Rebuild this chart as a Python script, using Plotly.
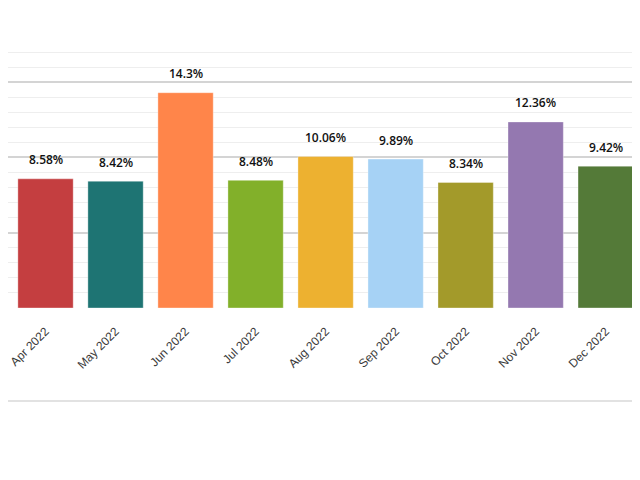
import plotly.graph_objects as go

months = ["Apr 2022", "May 2022", "Jun 2022", "Jul 2022", "Aug 2022",
          "Sep 2022", "Oct 2022", "Nov 2022", "Dec 2022"]
rates = [8.58, 8.42, 14.3, 8.48, 10.06, 9.89, 8.34, 12.36, 9.42]
labels = ["8.58%", "8.42%", "14.3%", "8.48%", "10.06%",
          "9.89%", "8.34%", "12.36%", "9.42%"]
bar_colors = ["#C43E40", "#1E7473", "#FF854A", "#82B02A", "#EDB130",
              "#A6D2F5", "#A39A2A", "#9478B0", "#547A38"]

fig = go.Figure()

fig.add_trace(go.Bar(
    x=months,
    y=rates,
    marker=dict(color=bar_colors, line=dict(color="rgba(255,255,255,0.35)", width=1)),
    hoverinfo="skip",
))

# value labels sit a bit higher than plotly's "outside" text would
for m, r, t in zip(months, rates, labels):
    fig.add_annotation(
        x=m, y=r, text=t, showarrow=False,
        yanchor="middle", yshift=19,
        font=dict(family="Open Sans", size=12, color="#111", weight=600),
    )

# thin separator line under the chart
fig.add_shape(type="line", xref="paper", yref="paper",
              x0=-0.02, x1=1, y0=-0.343, y1=-0.343,
              line=dict(color="#e2e2e2", width=2))

# page body has an 8px margin, so the figure is a bit smaller than the window
fig.update_layout(
    width=632,
    height=472,
    margin=dict(l=0, r=0, t=29, b=172),
    paper_bgcolor="white",
    plot_bgcolor="white",
    showlegend=False,
    bargap=0.21,
)

fig.update_xaxes(
    range=[-0.536, 8.49],
    tickangle=-45,
    tickfont=dict(family="Liberation Sans, Arial", size=12, color="#3a3a3a"),
    ticklabelstandoff=13,
    showgrid=False,
    showline=False,
    ticks="",
    automargin=False,
)

fig.update_yaxes(
    range=[0, 18],
    dtick=5,
    showticklabels=False,
    showgrid=True,
    gridcolor="#d4d4d4",
    gridwidth=1.5,
    minor=dict(dtick=1, showgrid=True, gridcolor="#eeeeee", gridwidth=1),
    zeroline=False,
    showline=False,
)

fig.write_html("out.html")
